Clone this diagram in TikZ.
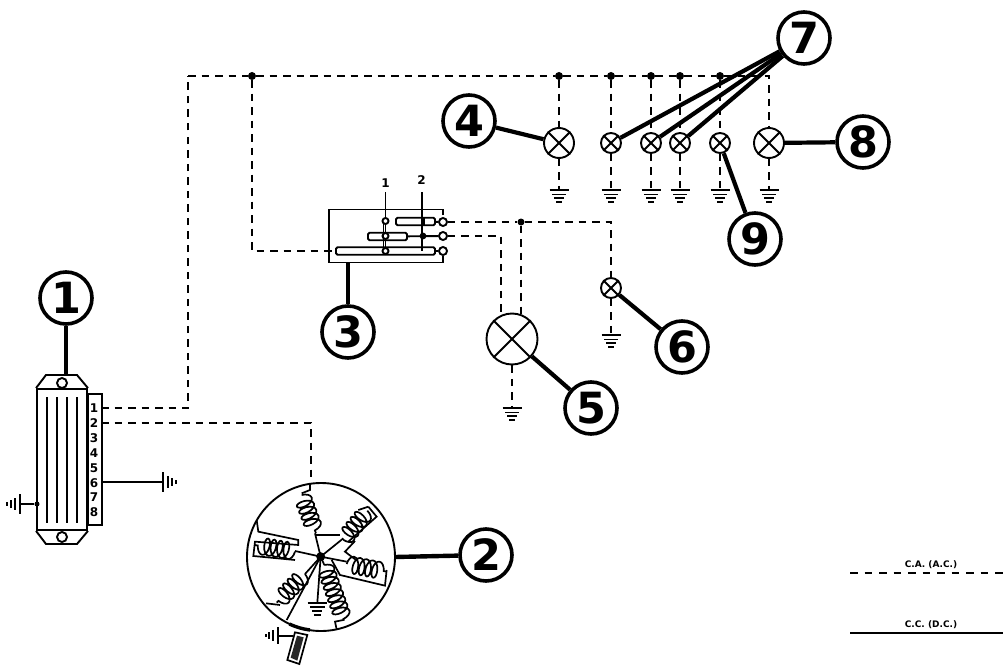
\documentclass[tikz,border=0pt]{standalone}
\usepackage{fontspec}
\setmainfont{DejaVu Sans}
\usetikzlibrary{decorations.pathmorphing}
\tikzset{
  wire/.style={line width=1.9pt,black},
  thin1/.style={line width=1.7pt,black},
  dsh/.style={line width=1.8pt,black,dash pattern=on 7.5pt off 6pt},
  thick3/.style={line width=4.4pt,black},
  lead/.style={line width=4.2pt,black},
  callout/.style={circle,draw,line width=3.6pt,fill=white,minimum size=52pt,inner sep=0pt,font=\fontsize{43}{43}\selectfont\bfseries},
  jdot/.style={circle,fill=black,minimum size=8pt,inner sep=0pt},
  lampbig/.style={circle,draw,wire,fill=white,minimum size=30pt,inner sep=0pt},
  lampsmall/.style={circle,draw,wire,fill=white,minimum size=20pt,inner sep=0pt},
  termc/.style={circle,draw,wire,fill=white,minimum size=8pt,inner sep=0pt},
  bar/.style={draw,wire,fill=white,rounded corners=1.5pt,inner sep=0pt},
  tiny/.style={font=\fontsize{12}{12}\selectfont\bfseries,inner sep=0pt},
  coilst/.style={line width=1.7pt,decorate,decoration={coil,amplitude=8.5pt,segment length=6.5pt,aspect=0.5}},
}
\newcommand{\lampx}[1]{%
  \draw[wire] (#1.45) -- (#1.225);
  \draw[wire] (#1.135) -- (#1.315);
}
\begin{document}
\begin{tikzpicture}[x=1pt,y=-1pt]
\useasboundingbox (0,0) rectangle (1003,666);

% --- callouts
\node[callout] (n1) at (66,298) {1};
\node[callout] (n2) at (486,555) {2};
\node[callout] (n3) at (348,332) {3};
\node[callout] (n4) at (469,121) {4};
\node[callout] (n5) at (591,408) {5};
\node[callout] (n6) at (682,347) {6};
\node[callout] (n7) at (804,38) {7};
\node[callout] (n8) at (863,142) {8};
\node[callout] (n9) at (755,239) {9};

% --- lamps
\node[lampbig] (l4) at (559,143) {};
\node[lampsmall] (l7a) at (611,143) {};
\node[lampsmall] (l7b) at (651,143) {};
\node[lampsmall] (l7c) at (680,143) {};
\node[lampsmall] (l9) at (720,143) {};
\node[lampbig] (l8) at (769,143) {};
\node[lampsmall] (l6) at (611,288) {};
\node[circle,draw,wire,fill=white,minimum size=51pt,inner sep=0pt] (l5) at (512,339) {};
\foreach \l in {l4,l7a,l7b,l7c,l9,l8,l6,l5}{\lampx{\l}}

% --- junctions
\node[jdot] (j0) at (252,76) {};
\node[jdot] (j4) at (559,76) {};
\node[jdot] (j7a) at (611,76) {};
\node[jdot] (j7b) at (651,76) {};
\node[jdot] (j7c) at (680,76) {};
\node[jdot] (j9) at (720,76) {};
\node[jdot,minimum size=7pt] (j5) at (521,222) {};
\coordinate (busL) at (188,76);
\coordinate (busR) at (769,76);

% --- grounds
\coordinate (g4) at (559,190);
\coordinate (g7a) at (611,190);
\coordinate (g7b) at (651,190);
\coordinate (g7c) at (680,190);
\coordinate (g9) at (720,190);
\coordinate (g8) at (769,190);
\coordinate (g6) at (611,335);
\coordinate (g5) at (512,408);
\foreach \g in {g4,g7a,g7b,g7c,g9,g8,g6,g5}{
  \draw[wire] ([xshift=-9.5pt]\g) -- ([xshift=9.5pt]\g);
  \draw[wire] ([xshift=-7pt,yshift=-4.5pt]\g) -- ([xshift=7pt,yshift=-4.5pt]\g);
  \draw[wire] ([xshift=-5pt,yshift=-8pt]\g) -- ([xshift=5pt,yshift=-8pt]\g);
  \draw[wire] ([xshift=-3pt,yshift=-12pt]\g) -- ([xshift=3pt,yshift=-12pt]\g);
}

% --- bus + lamp feeds
\draw[dsh] (busL) -- (j0) -- (j4) -- (j7a) -- (j7b) -- (j7c) -- (j9) -- (busR) -- (l8);
\draw[dsh] (j4) -- (l4);  \draw[dsh] (l4) -- (g4);
\draw[dsh] (j7a) -- (l7a); \draw[dsh] (l7a) -- (g7a);
\draw[dsh] (j7b) -- (l7b); \draw[dsh] (l7b) -- (g7b);
\draw[dsh] (j7c) -- (l7c); \draw[dsh] (l7c) -- (g7c);
\draw[dsh] (j9) -- (l9);  \draw[dsh] (l9) -- (g9);
\draw[dsh] (l8) -- (g8);

% --- leaders
\draw[lead] (n7) -- (l7a);
\draw[lead] (n7) -- (l7b);
\draw[lead] (n7) -- (l7c);
\draw[lead] (n9) -- (l9);
\draw[lead] (n4) -- (l4);
\draw[lead] (n8) -- (l8);
\draw[lead] (n5) -- (l5);
\draw[lead] (n6) -- (l6);

% --- regulator (1)
\node[draw,wire,minimum width=50pt,minimum height=141pt,inner sep=0pt] (reg) at (62,459.5) {};
\node[draw,wire,minimum width=14pt,minimum height=131pt,inner sep=0pt,anchor=west] (term) at (87,459.5) {};
\draw[wire] (reg.north west) -- (46,375) -- (77,375) -- (reg.north east);
\draw[wire] (reg.south west) -- (46,544) -- (77,544) -- (reg.south east);
\node[circle,draw,wire,minimum size=10pt,inner sep=0pt] (regt) at (62,383) {};
\node[circle,draw,wire,minimum size=10pt,inner sep=0pt] (regb) at (62,537) {};
\foreach \x in {47,57,67,77}{\draw[wire] (\x,397) -- (\x,523);}
\foreach \i/\y in {1/408,2/423,3/438,4/453,5/468,6/483,7/497,8/512}{\node[tiny] (t\i) at (94,\y) {\i};}
\coordinate (n1foot) at (66,375);
\draw[thick3] (n1) -- (n1foot);
\coordinate (r1) at (101,408);
\coordinate (r2) at (101,423);
\coordinate (c1) at (188,408);
\coordinate (c2) at (311,423);
\coordinate (c3) at (311,483);
\draw[dsh] (r1) -- (c1) -- (busL);
\draw[dsh] (r2) -- (c2) -- (c3);
% regulator grounds
\coordinate (r6) at (101,482);
\coordinate (rg6) at (163,482);
\draw[thin1] (r6) -- (rg6);
\draw[wire] (163,472) -- (163,492);
\draw[wire] (168,476) -- (168,488);
\draw[wire] (172,478) -- (172,486);
\draw[wire] (176,480) -- (176,484);
\node[circle,fill=black,minimum size=5pt,inner sep=0pt] (rd) at (37,504) {};
\coordinate (rg7) at (20,504);
\draw[thin1] (rd) -- (rg7);
\draw[wire] (20,494) -- (20,514);
\draw[wire] (15,498) -- (15,510);
\draw[wire] (11,500) -- (11,508);
\draw[wire] (7,502) -- (7,506);

% --- switch (3)
\coordinate (sNW) at (329,209.5);
\coordinate (sNE) at (442.7,209.5);
\coordinate (sSW) at (329,262.5);
\coordinate (sSE) at (442.7,262.5);
\draw[wire] (442.7,215) -- (sNE) -- (sNW) -- (sSW) -- (sSE) -- (442.7,256);
\draw[lead] (sSW -| n3) -- (n3);
\node[bar,minimum width=39pt,minimum height=7.5pt] (b1) at (415.5,221.5) {};
\node[bar,minimum width=39pt,minimum height=7.5pt] (b2) at (387.5,236.5) {};
\node[bar,minimum width=99pt,minimum height=7.5pt] (b3) at (385.5,251) {};
\coordinate (v1top) at (385.5,192);
\coordinate (v2top) at (422,192);
\node[termc,minimum size=6pt] (c11) at (385.5,221) {};
\node[termc,minimum size=6pt] (c12) at (385.5,236) {};
\node[termc,minimum size=6pt] (c13) at (385.5,251) {};
\draw[wire] (v1top) -- (c11);
\draw[wire] (c11) -- (c12) -- (c13);
\draw[wire] (383.5,224) -- (383.5,248);
\draw[wire] (v2top) -- (422,251);
\draw[wire] (424,217) -- (424,225);
\node[circle,fill=white,draw,thin1,minimum size=5pt,inner sep=0pt] (c22) at (423,236) {};
\node[tiny] (lab1) at (385.5,183) {1};
\node[tiny] (lab2) at (421.5,180) {2};
\node[termc] (s1) at (443,222) {};
\node[termc] (s2) at (443,236) {};
\node[termc] (s3) at (443,251) {};
\draw[wire] (b1) -- (s1);
\draw[wire] (b2) -- (s2);
\draw[wire] (b3) -- (s3);
\coordinate (k1) at (611,222);
\coordinate (k2) at (501,236);
\coordinate (k3) at (252,251);
\coordinate (k5a) at (521,315);
\coordinate (k5b) at (501,317);
\draw[dsh] (s1) -- (j5) -- (k1) -- (l6);
\draw[dsh] (j5) -- (k5a);
\draw[dsh] (s2) -- (k2) -- (k5b);
\draw[dsh] (j0) -- (k3) -- (b3);
\draw[dsh] (l5) -- (g5);
\draw[dsh] (l6) -- (g6);

% --- generator (2)
\node[circle,draw,wire,minimum size=148pt,inner sep=0pt] (gen) at (321,557) {};
\draw[thick3] (gen) ++(74,0) -- (n2);
\begin{scope}[shift={(230,470)},x=0.3333pt,y=-0.3333pt]
  \coordinate (hub) at (272,260);
  \fill (hub) circle (4.5pt);
  % coil A, top
  \draw[thin1] (240,42) -- (240,60) -- (215,70);
  \draw[coilst] (215,75) -- (258,190);
  \draw[thin1] (255,190) -- (hub);
  \draw[thin1] (255,195) -- (330,195);
  % coil B, upper right
  \draw[coilst] (412,122) -- (340,210);
  \draw[thin1] (340,205) -- (hub);
  \draw[thin1] (415,110) -- (440,140) -- (355,215);
  \draw[thin1] (415,110) -- (385,120);
  \draw[thin1] (375,213) -- (345,245) -- (378,270);
  % coil C, right
  \draw[coilst] (350,282) -- (470,305);
  \draw[thin1] (hub) -- (350,275);
  \draw[thin1] (470,300) -- (465,347) -- (330,315) -- (305,270);
  % coil D, lower
  \draw[coilst] (283,285) -- (342,452);
  \draw[thin1] (hub) -- (283,285);
  \draw[thin1] (340,450) -- (315,455) -- (320,478);
  % coil E, lower left
  \draw[coilst] (225,312) -- (140,398);
  \draw[thin1] (hub) -- (225,312);
  \draw[thin1] (150,405) -- (108,400);
  % coil F, left
  \draw[coilst] (195,245) -- (75,225);
  \draw[thin1] (hub) -- (195,243);
  \draw[thin1] (195,270) -- (70,258) -- (75,215) -- (205,225) -- (205,210) -- (85,185) -- (80,150);
  % spoke
  \draw[thin1] (hub) -- (170,450);
  % ground
  \coordinate (gg) at (262,398);
  \draw[thin1] (hub) -- (gg);
  \draw[wire] (233,400) -- (291,400);
  \draw[wire] (240,412) -- (284,412);
  \draw[wire] (247,423) -- (277,423);
  \draw[wire] (252,435) -- (272,435);
  % brush
  \draw[line width=3.4pt] (178,462) to[bend right=8] (240,480);
  \draw[thin1] (195,487) -- (232,495) -- (208,582) -- (172,570) -- cycle;
  \fill[black!85] (201,497) -- (221,502) -- (202,572) -- (182,563) -- cycle;
  \coordinate (bg) at (145,497);
  \draw[thin1] (190,497) -- (bg);
  \draw[wire] (143,472) -- (143,522);
  \draw[wire] (130,480) -- (130,514);
  \draw[wire] (118,487) -- (118,507);
  \draw[wire] (107,492) -- (107,502);
\end{scope}

% --- legend
\coordinate (la1) at (850,573);
\coordinate (la2) at (1003,573);
\coordinate (lb1) at (850,633);
\coordinate (lb2) at (1003,633);
\draw[dsh,dash pattern=on 7.5pt off 7pt] (la1) -- (la2);
\draw[line width=1.9pt] (lb1) -- (lb2);
\node[font=\fontsize{9}{9}\selectfont\bfseries,inner sep=0pt] (ca) at (931,565) {C.A. (A.C.)};
\node[font=\fontsize{9}{9}\selectfont\bfseries,inner sep=0pt] (cc) at (931,625) {C.C. (D.C.)};
\end{tikzpicture}
\end{document}
